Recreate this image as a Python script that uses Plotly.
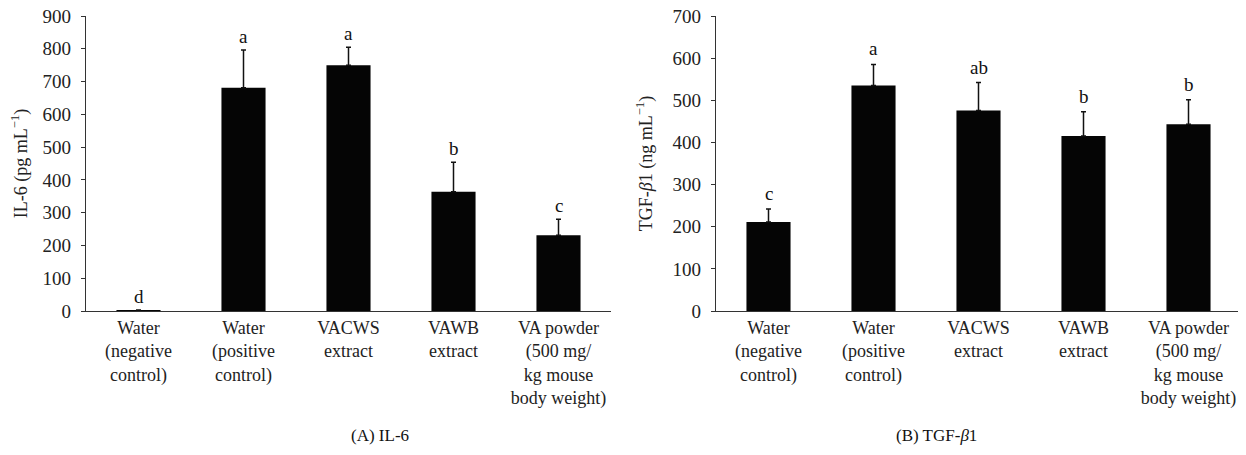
import plotly.graph_objects as go

categories = [
    "Water<br>(negative<br>control)",
    "Water<br>(positive<br>control)",
    "VACWS<br>extract",
    "VAWB<br>extract",
    "VA powder<br>(500 mg/<br>kg mouse<br>body weight)",
]
il6_values = [3, 681, 750, 364, 231]
il6_errors = [0, 115, 55, 90, 49]
il6_letters = ["d", "a", "a", "b", "c"]

tgf_values = [211, 535, 476, 415, 443]
tgf_errors = [31, 50, 66, 58, 58]
tgf_letters = ["c", "a", "ab", "b", "b"]

FONT = "Liberation Serif"
# page body has an 8px margin; work in figure pixels (screen - 8)
W, H = 1238, 439
T, B = 8, 136
PH = H - T - B

fig = go.Figure()

err_style = dict(type="data", symmetric=False, color="#111", thickness=1.5, width=2.5)

fig.add_trace(go.Bar(
    x=categories, y=il6_values, width=0.42,
    marker=dict(color="#050505", line=dict(width=0)),
    error_y=dict(array=il6_errors, arrayminus=[0] * 5, **err_style),
    xaxis="x", yaxis="y", showlegend=False,
))
fig.add_trace(go.Bar(
    x=categories, y=tgf_values, width=0.42,
    marker=dict(color="#050505", line=dict(width=0)),
    error_y=dict(array=tgf_errors, arrayminus=[0] * 5, **err_style),
    xaxis="x2", yaxis="y2", showlegend=False,
))

annotations = []
for c, v, e, t in zip(categories, il6_values, il6_errors, il6_letters):
    annotations.append(dict(x=c, y=v + e, xref="x", yref="y", text=t, showarrow=False,
                            yanchor="bottom", yshift=1, font=dict(family=FONT, size=19, color="#111")))
for c, v, e, t in zip(categories, tgf_values, tgf_errors, tgf_letters):
    annotations.append(dict(x=c, y=v + e, xref="x2", yref="y2", text=t, showarrow=False,
                            yanchor="bottom", yshift=3, font=dict(family=FONT, size=19, color="#111")))

L1, R1 = 78, 603
L2, R2 = 708, 1233
cap_y = (H - B - 427) / PH
annotations.append(dict(x=(L1 + R1) / 2 / W, y=cap_y, xref="paper", yref="paper",
                        text="(A) IL-6", showarrow=False, yanchor="middle",
                        font=dict(family=FONT, size=17, color="#111")))
annotations.append(dict(x=(L2 + R2) / 2 / W, y=cap_y, xref="paper", yref="paper",
                        text="(B) TGF-<i>β</i>1", showarrow=False, yanchor="middle",
                        font=dict(family=FONT, size=17, color="#111")))

xcommon = dict(type="category", range=[-0.5, 4.5], showline=True, linecolor="#333", linewidth=1.2,
               ticks="", showgrid=False, zeroline=False, automargin=False, ticklabeloverflow="allow",
               tickfont=dict(family=FONT, size=18, color="#222"))
ycommon = dict(showline=True, linecolor="#333", linewidth=1.2, ticks="outside", ticklen=4,
               tickcolor="#333", showgrid=False, zeroline=False, automargin=False,
               ticklabeloverflow="allow",
               tickfont=dict(family=FONT, size=19, color="#222"), ticklabelstandoff=6)

fig.update_layout(
    width=W, height=H,
    margin=dict(l=0, r=0, t=T, b=B),
    paper_bgcolor="white", plot_bgcolor="white",
    font=dict(family=FONT, size=18, color="#222"),
    xaxis=dict(**xcommon, anchor="y", domain=[L1 / W, R1 / W]),
    xaxis2=dict(**xcommon, anchor="y2", domain=[L2 / W, R2 / W]),
    yaxis=dict(**ycommon, range=[0, 900], dtick=100, anchor="x",
               title=dict(text="IL-6 (pg mL<sup>−1</sup>)", font=dict(family=FONT, size=18, color="#222"))),
    yaxis2=dict(**ycommon, range=[0, 700], dtick=100, anchor="x2",
                title=dict(text="TGF-<i>β</i>1 (ng mL<sup>−1</sup>)", font=dict(family=FONT, size=18, color="#222"))),
    annotations=annotations,
)

fig.write_html("out.html")
